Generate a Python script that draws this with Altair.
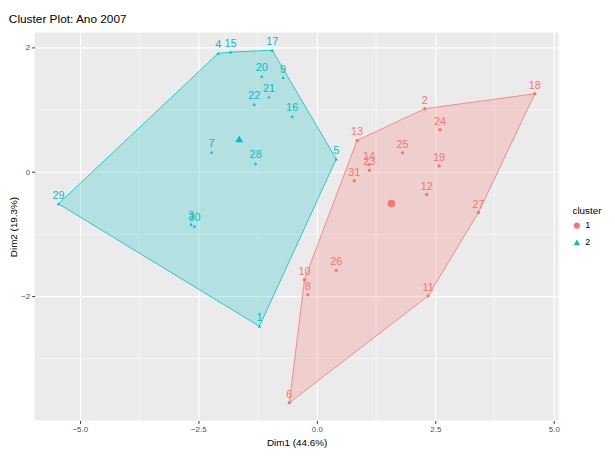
import altair as alt
import pandas as pd

# ---- data ----
labels = ["2", "6", "8", "10", "11", "12", "13", "14", "18", "19", "23", "24", "25", "26", "27", "31",
          "1", "3", "4", "5", "7", "9", "15", "16", "17", "20", "21", "22", "28", "29", "30"]
dim1 = [2.28, -0.58, -0.19, -0.26, 2.35, 2.32, 0.85, 1.10, 4.60, 2.58, 1.11, 2.60, 1.81, 0.41, 3.41, 0.79,
        -1.21, -2.65, -2.08, 0.41, -2.22, -0.71, -1.82, -0.52, -0.94, -1.16, -1.01, -1.32, -1.29, -5.45, -2.58]
dim2 = [1.02, -3.71, -1.97, -1.73, -1.99, -0.36, 0.51, 0.12, 1.26, 0.10, 0.03, 0.68, 0.31, -1.58, -0.65, -0.14,
        -2.48, -0.84, 1.91, 0.21, 0.32, 1.52, 1.93, 0.90, 1.96, 1.54, 1.21, 1.09, 0.14, -0.51, -0.87]
cluster = ["1"] * 16 + ["2"] * 15

x_major = [-5.0, -2.5, 0.0, 2.5, 5.0]
x_minor = [-3.75, -1.25, 1.25, 3.75]
y_major = [-2, 0, 2]
y_minor = [-3, -1, 1]

colors = ["#F8766D", "#00BFC4"]
shapes = ["circle", "triangle-up"]

df = pd.DataFrame({"label": labels, "Dim1": dim1, "Dim2": dim2, "cluster": cluster})
cent = df.groupby("cluster", as_index=False)[["Dim1", "Dim2"]].mean()


def hull(points):
    pts = sorted(set(points))
    def cross(o, a, b):
        return (a[0] - o[0]) * (b[1] - o[1]) - (a[1] - o[1]) * (b[0] - o[0])
    lower, upper = [], []
    for p in pts:
        while len(lower) >= 2 and cross(lower[-2], lower[-1], p) <= 0:
            lower.pop()
        lower.append(p)
    for p in reversed(pts):
        while len(upper) >= 2 and cross(upper[-2], upper[-1], p) <= 0:
            upper.pop()
        upper.append(p)
    return lower[:-1] + upper[:-1]


rows = []
for c, g in df.groupby("cluster"):
    h = hull(list(zip(g["Dim1"], g["Dim2"])))
    h = h + [h[0]]
    for i, (a, b) in enumerate(h):
        rows.append({"cluster": c, "Dim1": a, "Dim2": b, "idx": i})
hull_df = pd.DataFrame(rows)

def expand(vals, f=0.05):
    lo, hi = min(vals), max(vals)
    d = (hi - lo) * f
    return [lo - d, hi + d]

xdom = expand(dim1)
ydom = expand(dim2)

FONT = "Liberation Sans"
xs = alt.Scale(domain=xdom, nice=False, zero=False)
ys = alt.Scale(domain=ydom, nice=False, zero=False)
cscale = alt.Scale(domain=["1", "2"], range=colors)
sscale = alt.Scale(domain=["1", "2"], range=shapes)

minor_x = alt.Chart(pd.DataFrame({"v": x_minor})).mark_rule(color="white", strokeWidth=0.5).encode(
    x=alt.X("v:Q", scale=xs))
minor_y = alt.Chart(pd.DataFrame({"v": y_minor})).mark_rule(color="white", strokeWidth=0.5).encode(
    y=alt.Y("v:Q", scale=ys))

poly_layers = []
for c, col in zip(["1", "2"], colors):
    poly_layers.append(
        alt.Chart(hull_df).transform_filter(alt.datum.cluster == c).mark_line(
            stroke=col, fill=col, fillOpacity=0.24, strokeWidth=0.8).encode(
            x=alt.X("Dim1:Q", scale=xs),
            y=alt.Y("Dim2:Q", scale=ys),
            order="idx:Q",
        )
    )

pts = alt.Chart(df).mark_point(filled=True, opacity=1, size=12).encode(
    x=alt.X("Dim1:Q", scale=xs,
            axis=alt.Axis(values=x_major, format=".1f", title="Dim1 (44.6%)")),
    y=alt.Y("Dim2:Q", scale=ys,
            axis=alt.Axis(values=y_major, format="d", title="Dim2 (19.3%)", titlePadding=2)),
    color=alt.Color("cluster:N", scale=cscale,
                    legend=alt.Legend(title="cluster", orient="none", legendX=545, legendY=176)),
    shape=alt.Shape("cluster:N", scale=sscale),
)

cents = alt.Chart(cent).mark_point(filled=True, opacity=1, size=60).encode(
    x=alt.X("Dim1:Q", scale=xs),
    y=alt.Y("Dim2:Q", scale=ys),
    color=alt.Color("cluster:N", scale=cscale),
    shape=alt.Shape("cluster:N", scale=sscale),
)

txt = alt.Chart(df).mark_text(fontSize=11, font=FONT, dy=-5, baseline="alphabetic").encode(
    x=alt.X("Dim1:Q", scale=xs),
    y=alt.Y("Dim2:Q", scale=ys),
    text="label:N",
    color=alt.Color("cluster:N", scale=cscale),
)

chart = alt.layer(minor_x, minor_y, *poly_layers, pts, cents, txt).properties(
    width=531, height=393,
    title=alt.TitleParams("Cluster Plot: Ano 2007", anchor="start", fontSize=12, font=FONT,
                          fontWeight="normal", color="#000000", baseline="alphabetic", offset=8, dy=11),
    autosize=alt.AutoSizeParams(type="none"),
    padding={"left": 27, "top": 22, "right": 49, "bottom": 25},
).configure_view(fill="#EBEBEB", stroke=None).configure_axis(
    domain=False, grid=True, gridColor="white", gridWidth=1.1,
    tickColor="#333333", tickSize=3, tickWidth=1,
    labelColor="#4D4D4D", labelFontSize=8, labelFont=FONT, labelPadding=2,
    titleFont=FONT, titleFontSize=10, titleFontWeight="normal", titleColor="#000000", titlePadding=4,
).configure_legend(
    titleFont=FONT, titleFontSize=10, titleFontWeight="normal", titleColor="#000000",
    labelFont=FONT, labelFontSize=9, labelColor="#000000", symbolSize=40, symbolOpacity=1,
    rowPadding=4,
)

chart.save("out.html", embed_options={"renderer": "svg", "actions": False})
